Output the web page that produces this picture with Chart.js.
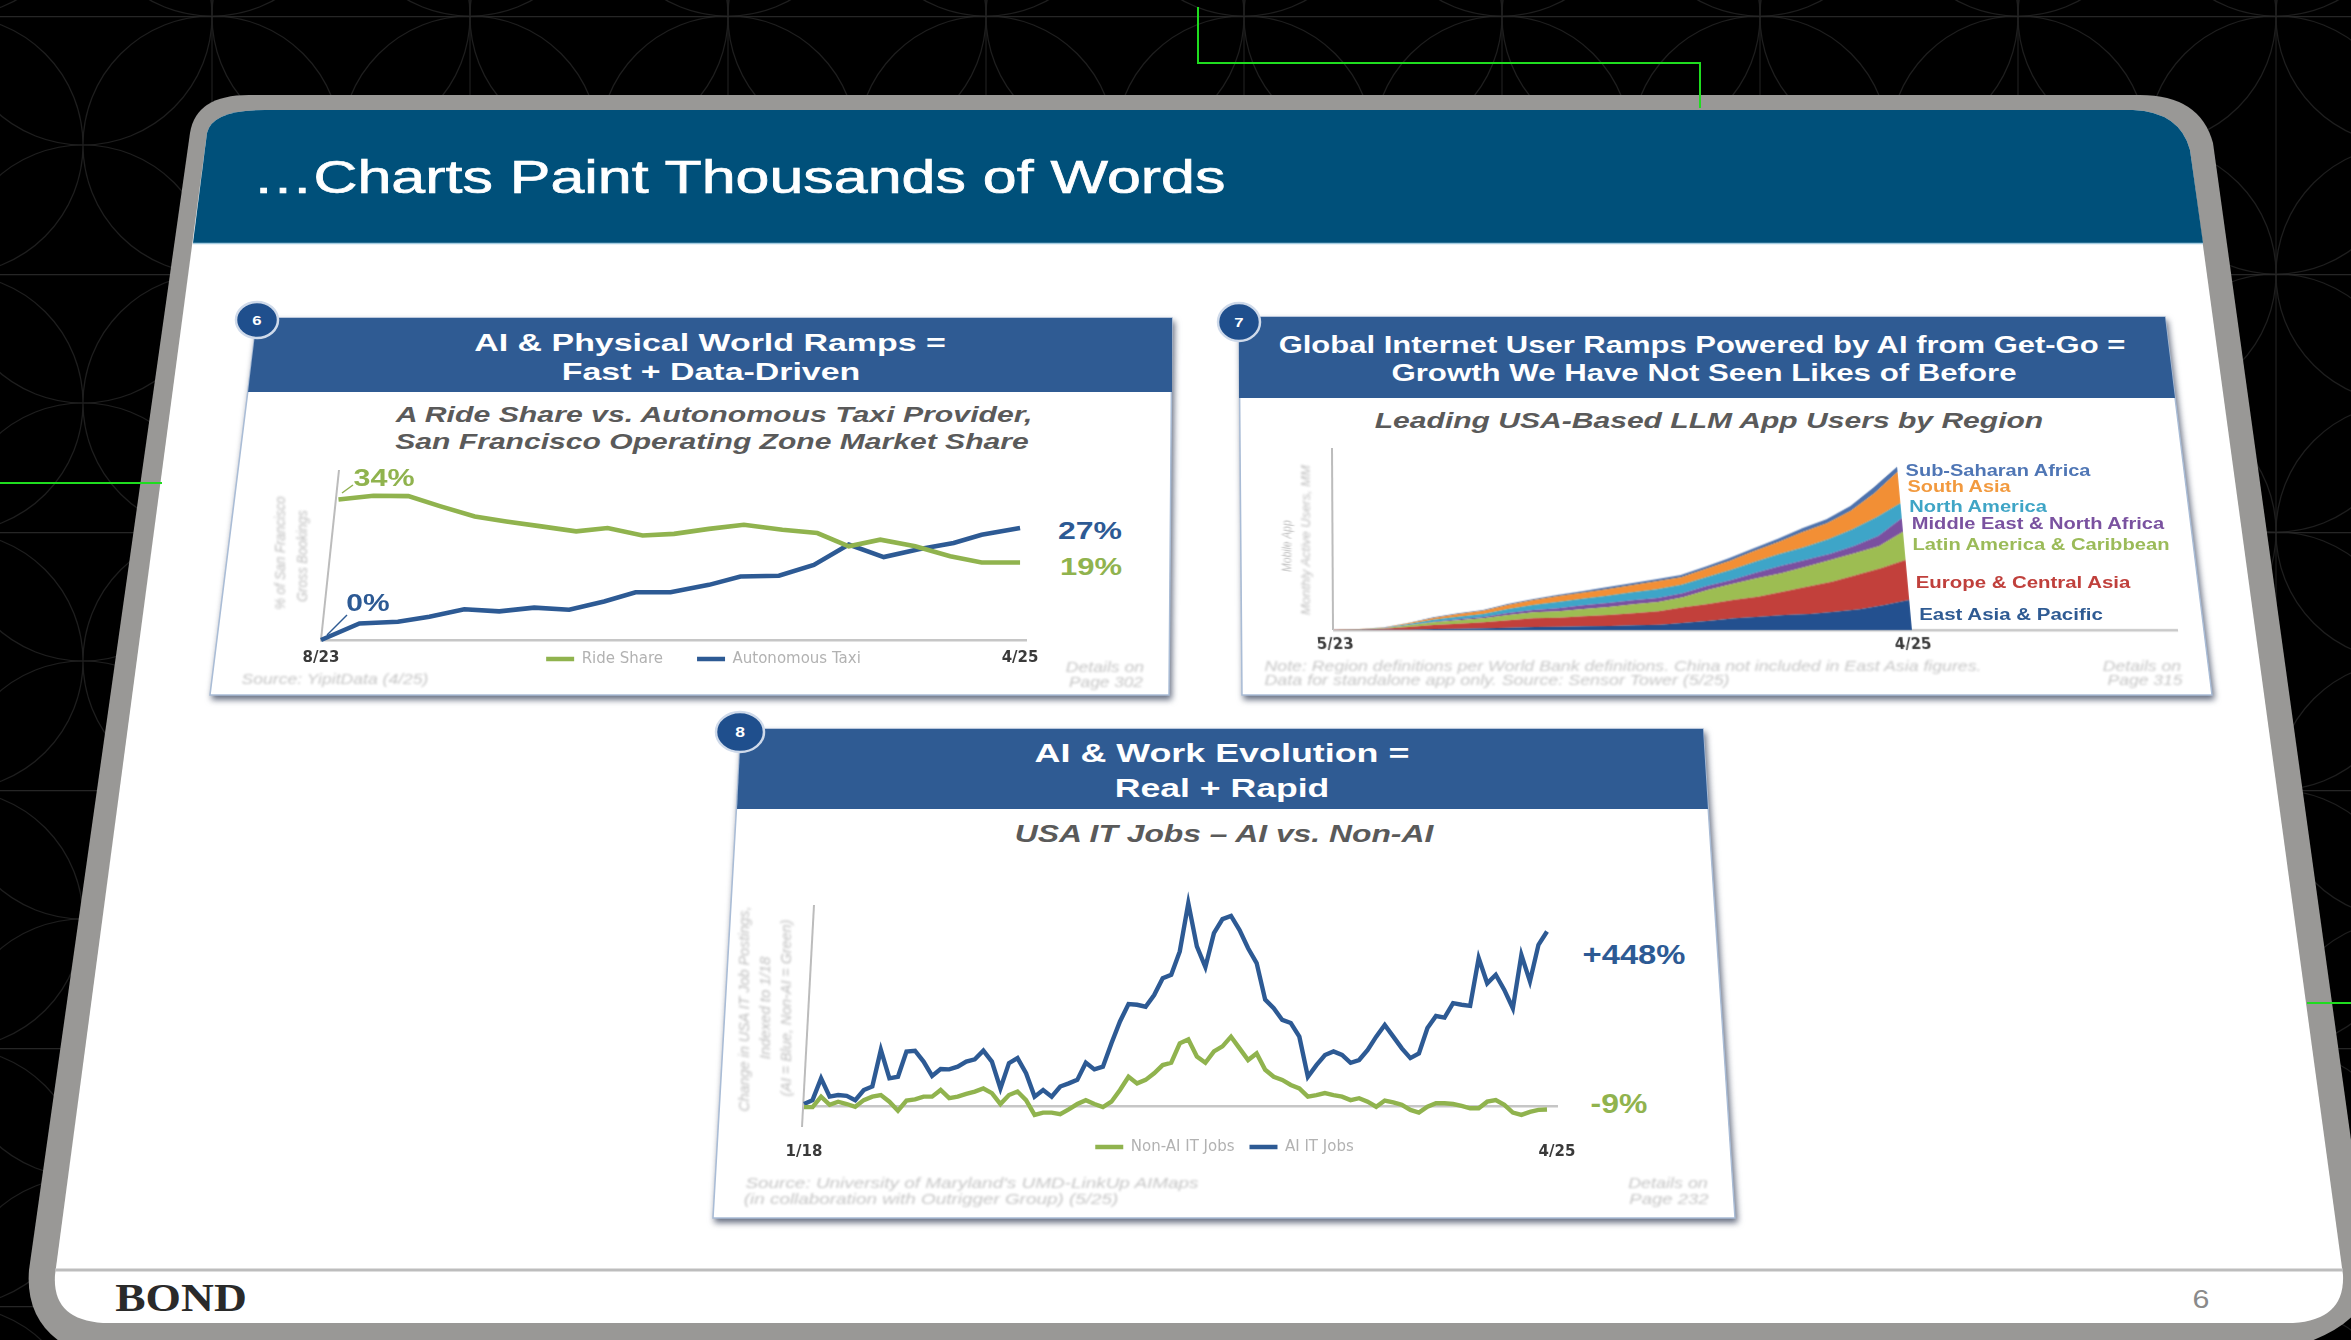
<!DOCTYPE html>
<html>
<head>
<meta charset="utf-8">
<title>Charts Paint Thousands of Words</title>
<script src="https://cdn.jsdelivr.net/npm/chart.js@4"></script>
<style>
  html, body { margin: 0; padding: 0; background: #000; overflow: hidden; }
  #slide { position: relative; width: 2351px; height: 1340px; overflow: hidden; filter: blur(0.7px); }
  #frame { position: absolute; left: 0; top: 0; }
  canvas { position: absolute; }
  .t { position: absolute; white-space: nowrap; font-family: "Liberation Sans", Arial, sans-serif; line-height: 1; }
  .card { filter: drop-shadow(2px 4px 3px rgba(50, 60, 85, .75)); }
</style>
</head>
<body>
<div id="slide">
  <svg id="frame" width="2351" height="1340" xmlns="http://www.w3.org/2000/svg">
    <defs>
      <pattern id="rings" x="83" y="16" width="258" height="258" patternUnits="userSpaceOnUse">
        <g fill="none" stroke="#1e1e1e" stroke-width="1.2">
          <circle cx="0" cy="0" r="129"/><circle cx="258" cy="0" r="129"/>
          <circle cx="0" cy="258" r="129"/><circle cx="258" cy="258" r="129"/>
          <circle cx="129" cy="129" r="129"/>
          <path d="M129 0V258"/>
        </g>
        <path d="M0 0H258" stroke="#262626" stroke-width="2.5"/>
      </pattern>
    </defs>
    <rect width="2351" height="1340" fill="#000"/>
    <rect width="2351" height="1340" fill="url(#rings)"/>

    <path d="M249 95L2140 95Q2200 95 2213 143L2369 1270Q2375 1320 2300 1345L65 1345Q25 1320 29 1270L190 133Q196 95 249 95Z" fill="#999896"/>
    <path d="M265 110L2133 110Q2180 112 2190 150L2343 1275Q2345 1320 2293 1323L103 1323Q52 1320 55 1275L207 133Q212 110 265 110Z" fill="#fff"/>
    <path d="M265 110L2133 110Q2180 112 2190 150L2203 243L193 243L207 133Q212 110 265 110Z" fill="#00507a"/>
    <path d="M193 243.5H2203" stroke="#a3cbe0" stroke-width="1.5"/>
    <path d="M55 1270H2343" stroke="#bdbdbd" stroke-width="3"/>

    <path d="M1198 7V63H1700V108M0 483H162M2307 1003H2351" fill="none" stroke="#1fdc1f" stroke-width="2"/>

    <polygon class="card" points="257,318 1172,318 1169,695 210,695" fill="#fff" stroke="#a9bcd6" stroke-width="1.5"/>
    <polygon points="257,318 1172,318 1172,392 248,392" fill="#2f5b93"/>
    <polygon class="card" points="1239,317 2165,317 2212,695 1242,695" fill="#fff" stroke="#a9bcd6" stroke-width="1.5"/>
    <polygon points="1239,317 2165,317 2175,398 1239,398" fill="#2f5b93"/>
    <polygon class="card" points="741,729 1703,729 1735,1218 713,1218" fill="#fff" stroke="#a9bcd6" stroke-width="1.5"/>
    <polygon points="741,729 1703,729 1708,809 737,809" fill="#2f5b93"/>

    <g fill="#1f4f8d" stroke="#cfdaea" stroke-width="2.5">
      <ellipse cx="257" cy="320" rx="21" ry="18"/>
      <ellipse cx="1239" cy="322" rx="21" ry="19"/>
      <ellipse cx="740" cy="732" rx="24" ry="20"/>
    </g>

    <g fill="none" stroke="#bcbcbc" stroke-width="2">
      <path d="M339 470L321 640"/>
      <path d="M1332 448L1333 630"/>
      <path d="M814 905L802 1127"/>
    </g>
    <path d="M342 493L353 485" stroke="#8fb04f" stroke-width="1.5"/>
    <path d="M327 635L347 615" stroke="#2f5b93" stroke-width="1.5"/>
  </svg>

  <canvas id="rideChart" width="745" height="249" style="left:301px;top:460px"></canvas>
  <canvas id="regionChart" width="883" height="222" style="left:1314px;top:438px;transform:skewX(5.2deg);transform-origin:20px 192px"></canvas>
  <canvas id="jobsChart" width="793" height="287" style="left:784px;top:890px"></canvas>
  <div id="labels"></div>
</div>

<script>
// =====================
// CHART 6: RIDE SHARE VS AUTONOMOUS TAXI (months since 8/23, % share)
// =====================
const rideTicks = ['8/23', '4/25'];
const rideShareX = [0.5, 1.5, 2.5, 3.4, 4.4, 5.3, 6.3, 7.3, 8.2, 9.2, 10.1, 11.1, 12.1, 13.2, 14.2, 15.1, 16, 17, 18, 18.9, 20];
const rideShare = [33.9, 34.8, 34.7, 32.3, 29.8, 28.6, 27.4, 26.2, 27, 25.2, 25.6, 26.8, 27.8, 26.6, 25.8, 22.6, 24.2, 22.6, 20.2, 18.7, 18.7];
const autoTaxiX = [0, 1.1, 2.2, 3.1, 4.1, 5.1, 6.1, 7.1, 8.1, 9, 10, 11.1, 12, 13.1, 14.1, 15.1, 16.1, 17.1, 18.1, 18.9, 20];
const autoTaxi = [0, 4, 4.4, 5.6, 7.4, 6.9, 7.8, 7.3, 9.3, 11.5, 11.5, 13.3, 15.3, 15.5, 18.1, 23, 20, 21.9, 23.4, 25.4, 27];

// =====================
// CHART 7: LLM APP USERS BY REGION, monthly 5/23 to 4/25 (no axis scale in the source, relative units)
// =====================
const regionTicks = ['5/23', '4/25'];
const eastAsiaPacific = [0.2, 0.5, 1, 1, 3, 4, 5, 7, 9, 10, 11, 12, 14, 16, 22, 28, 35, 40, 45, 48, 55, 62, 75, 90];
const europeCentralAsia = [0.3, 1, 3, 8, 12, 15, 18, 22, 26, 27, 30, 33, 36, 40, 46, 50, 55, 60, 70, 82, 90, 103, 110, 120];
const latinAmerica = [0.2, 0.5, 1.5, 5, 8, 10, 12, 16, 18, 19, 22, 24, 27, 28, 30, 42, 48, 55, 55, 60, 65, 65, 67, 85];
const middleEast = [0.1, 0.2, 0.5, 1, 2, 3, 4, 6, 7, 9, 11, 12, 12, 12, 12, 12, 12, 17, 22, 20, 18, 22, 30, 40];
const northAmerica = [0.1, 0.4, 1, 3, 6, 8, 9, 12, 15, 19, 20, 22, 24, 26, 26, 26, 30, 33, 36, 38, 44, 50, 56, 45];
const southAsia = [0.1, 0.3, 0.7, 3, 5, 8, 10, 12, 14, 17, 18, 19, 21, 24, 22, 25, 28, 32, 36, 46, 48, 56, 72, 95];
const subSaharan = [0, 0.1, 0.3, 1, 2, 2, 2, 3, 3, 4, 4, 6, 6, 6, 7, 7, 8, 8, 10, 11, 12, 14, 18, 15];

// =====================
// CHART 8: USA IT JOBS, monthly 1/18 to 4/25 (% change from 1/18)
// =====================
const jobsTicks = ['1/18', '4/25'];
const aiJobs = [
  5, 15, 71, 24, 28, 26, 15, 41, 50, 144, 71, 75,
  140, 142, 114, 77, 95, 94, 101, 114, 120, 142, 114, 45,
  110, 123, 84, 24, 41, 24, 50, 58, 67, 111, 94, 101,
  161, 217, 262, 260, 255, 285, 328, 337, 397, 521, 410, 357,
  444, 480, 488, 452, 405, 367, 273, 251, 221, 213, 178, 75,
  105, 131, 140, 131, 111, 118, 144, 178, 208, 178, 148, 123,
  135, 200, 231, 227, 264, 260, 257, 380, 315, 337, 298, 251,
  388, 320, 414, 448
];
const nonAiJobs = [
  -3, -3, 24, 3, 11, 5, -2, 15, 24, 28, 11, -12,
  14, 17, 24, 24, 41, 20, 24, 31, 37, 45, 33, 5,
  28, 37, 15, -23, -17, -17, -21, -9, 5, 15, 5, -3,
  11, 41, 75, 58, 67, 84, 105, 111, 161, 171, 127, 111,
  140, 153, 178, 148, 118, 135, 93, 75, 67, 54, 45, 24,
  28, 33, 28, 24, 15, 20, 11, -2, 14, 9, 3, -10,
  -17, -2, 7, 7, 5, 0, -6, -6, 11, 15, 3, -17,
  -23, -15, -10, -9
];

const BLUE = '#2d5a94';
const GREEN = '#90b34e';

// moves the legend onto the tick label row, Chart.js has no option for that
const legendNudge = {
  id: 'legendNudge',
  afterLayout(chart, args, opts) {
    if (!chart.legend || !opts.dx) return;
    chart.legend.left += opts.dx;
    chart.legend.right += opts.dx;
    chart.legend.top += opts.dy;
  }
};
Chart.register(legendNudge);

function toPoints(xs, ys) {
  return ys.map((y, i) => ({ x: xs ? xs[i] : i, y }));
}

// the label gap goes through tickLength, ticks.padding would shrink the chart area
function xAxis(tickValues, tickLabels, max, gap) {
  return {
    type: 'linear',
    min: 0,
    max,
    position: { y: 0 },
    grid: { display: false, drawTicks: true, tickLength: gap },
    border: { display: true, color: '#c6c6c6', width: 2.5 },
    afterBuildTicks: scale => { scale.ticks = tickValues.map(value => ({ value })); },
    ticks: {
      autoSkip: false,
      maxRotation: 0,
      padding: 0,
      color: '#3a3a3a',
      font: { family: 'DejaVu Sans', size: 15, weight: 'bold' },
      callback: (v, i) => tickLabels[i]
    }
  };
}

function legendOptions(padding) {
  return {
    position: 'bottom',
    labels: {
      usePointStyle: true,
      pointStyle: 'line',
      pointStyleWidth: 28,
      padding,
      color: '#b2b2b2',
      font: { family: 'DejaVu Sans', size: 15 }
    }
  };
}

new Chart(document.getElementById('rideChart'), {
  type: 'line',
  data: {
    datasets: [
      { label: 'Ride Share', data: toPoints(rideShareX, rideShare), borderColor: GREEN, backgroundColor: GREEN, borderWidth: 4.6, pointRadius: 0, clip: false },
      { label: 'Autonomous Taxi', data: toPoints(autoTaxiX, autoTaxi), borderColor: BLUE, backgroundColor: BLUE, borderWidth: 4.6, pointRadius: 0, clip: false }
    ]
  },
  options: {
    responsive: false,
    animation: false,
    layout: { padding: { left: 20, right: 20, top: 10, bottom: 10 } },
    plugins: { legend: legendOptions(34), tooltip: { enabled: false }, legendNudge: { dx: 30, dy: -22.5 } },
    scales: {
      x: xAxis([0, 20], rideTicks, 20.17, 9),
      y: { display: false, min: 0, max: 41 }
    }
  }
});

const regionSeries = [
  ['East Asia & Pacific', eastAsiaPacific, '#23508f'],
  ['Europe & Central Asia', europeCentralAsia, '#c2403b'],
  ['Latin America & Caribbean', latinAmerica, '#9dbd52'],
  ['Middle East & North Africa', middleEast, '#7a50a0'],
  ['North America', northAmerica, '#3ea5c8'],
  ['South Asia', southAsia, '#f28f35'],
  ['Sub-Saharan Africa', subSaharan, '#4d72ad']
];

new Chart(document.getElementById('regionChart'), {
  type: 'line',
  data: {
    datasets: regionSeries.map(([label, values, color], i) => ({
      label,
      data: toPoints(null, values),
      borderColor: color,
      backgroundColor: color,
      borderWidth: 0,
      pointRadius: 0,
      fill: i === 0 ? 'origin' : '-1'
    }))
  },
  options: {
    responsive: false,
    animation: false,
    layout: { padding: { left: 20, right: 20, top: 10, bottom: 30 } },
    plugins: { legend: { display: false }, tooltip: { enabled: false } },
    scales: {
      x: xAxis([0, 23], regionTicks, 33.55, 6),
      y: { display: false, stacked: true, min: 0, max: 546 }
    }
  }
});

new Chart(document.getElementById('jobsChart'), {
  type: 'line',
  data: {
    datasets: [
      { label: 'Non-AI IT Jobs', data: toPoints(null, nonAiJobs), borderColor: GREEN, backgroundColor: GREEN, borderWidth: 4.4, pointRadius: 0, clip: false, order: 0 },
      { label: 'AI IT Jobs', data: toPoints(null, aiJobs), borderColor: BLUE, backgroundColor: BLUE, borderWidth: 4.4, pointRadius: 0, clip: false, order: 1 }
    ]
  },
  options: {
    responsive: false,
    animation: false,
    layout: { padding: { left: 20, right: 20, top: 10, bottom: 10 } },
    plugins: { legend: legendOptions(15), tooltip: { enabled: false }, legendNudge: { dx: 44, dy: -2.5 } },
    scales: {
      x: xAxis([0, 88.17], jobsTicks, 88.17, 37),
      y: { display: false, min: -54, max: 529 }
    }
  }
});

// =====================
// TEXT (the source slide is stretched sideways, so each line is fitted to its measured width)
// =====================
const GREY = '#bdbdbd';
const FAINT = '#c6c6c6';
const DARK = '#5a5a5a';
const texts = [
  // text, centre x, centre y, width, font size, colour, style, rotated
  ['…Charts Paint Thousands of Words', 739, 176, 973, 47, '#fff', 'heavy'],
  ['BOND', 181, 1298, 132, 40, '#2a2a2a', 'serif'],
  ['6', 2201, 1299, 17, 25, '#8a8a8a', ''],

  ['6', 257, 320, 9, 13, '#fff', 'b'],
  ['AI & Physical World Ramps =', 710, 343, 472, 24, '#fff', 'b'],
  ['Fast + Data-Driven', 711, 372, 298, 24, '#fff', 'b'],
  ['A Ride Share vs. Autonomous Taxi Provider,', 714, 415, 636, 22, DARK, 'bi'],
  ['San Francisco Operating Zone Market Share', 712, 442, 633, 22, DARK, 'bi'],
  ['34%', 384, 478, 61, 23, GREEN, 'b'],
  ['0%', 368, 603, 43, 23, BLUE, 'b'],
  ['27%', 1090, 531, 64, 23, BLUE, 'b'],
  ['19%', 1091, 567, 62, 23, GREEN, 'b'],
  ['% of San Francisco', 280, 553, 113, 14, GREY, 'f', true],
  ['Gross Bookings', 302, 556, 92, 14, GREY, 'f', true],
  ['Source: YipitData (4/25)', 335, 679, 187, 14, FAINT, 'f'],
  ['Details on', 1105, 667, 78, 14, FAINT, 'f'],
  ['Page 302', 1106, 682, 74, 14, FAINT, 'f'],

  ['7', 1239, 322, 9, 13, '#fff', 'b'],
  ['Global Internet User Ramps Powered by AI from Get-Go =', 1702, 345, 847, 23, '#fff', 'b'],
  ['Growth We Have Not Seen Likes of Before', 1704, 373, 625, 23, '#fff', 'b'],
  ['Leading USA-Based LLM App Users by Region', 1709, 421, 668, 22, DARK, 'bi'],
  ['Mobile App', 1287, 546, 52, 12, GREY, 'f', true],
  ['Monthly Active Users, MM', 1306, 540, 150, 12, GREY, 'f', true],
  ['Sub-Saharan Africa', 1998, 471, 185, 16, '#4f76b5', 'b'],
  ['South Asia', 1959, 487, 103, 16, '#f29a3f', 'b'],
  ['North America', 1978, 507, 138, 16, '#3fa5c6', 'b'],
  ['Middle East & North Africa', 2038, 524, 252, 16, '#7a52a0', 'b'],
  ['Latin America & Caribbean', 2041, 545, 257, 16, '#9bbb59', 'b'],
  ['Europe & Central Asia', 2023, 583, 214, 16, '#c0403c', 'b'],
  ['East Asia & Pacific', 2011, 615, 183, 16, '#2f5b93', 'b'],
  ['Note: Region definitions per World Bank definitions. China not included in East Asia figures.', 1623, 666, 717, 14, FAINT, 'f'],
  ['Data for standalone app only. Source: Sensor Tower (5/25)', 1497, 680, 465, 14, FAINT, 'f'],
  ['Details on', 2142, 666, 78, 14, FAINT, 'f'],
  ['Page 315', 2145, 680, 75, 14, FAINT, 'f'],

  ['8', 740, 732, 10, 14, '#fff', 'b'],
  ['AI & Work Evolution =', 1222, 753, 375, 26, '#fff', 'b'],
  ['Real + Rapid', 1222, 788, 215, 26, '#fff', 'b'],
  ['USA IT Jobs – AI vs. Non-AI', 1224, 834, 418, 23, DARK, 'bi'],
  ['Change in USA IT Job Postings,', 744, 1009, 205, 14, GREY, 'f', true],
  ['Indexed to 1/18', 765, 1008, 103, 14, GREY, 'f', true],
  ['(AI = Blue, Non-AI = Green)', 786, 1008, 177, 14, GREY, 'f', true],
  ['+448%', 1634, 955, 103, 28, BLUE, 'b'],
  ['-9%', 1619, 1104, 57, 28, GREEN, 'b'],
  ["Source: University of Maryland's UMD-LinkUp AIMaps", 972, 1182, 453, 15, FAINT, 'f'],
  ['(in collaboration with Outrigger Group) (5/25)', 931, 1198, 375, 15, FAINT, 'f'],
  ['Details on', 1668, 1182, 80, 15, FAINT, 'f'],
  ['Page 232', 1669, 1198, 79, 15, FAINT, 'f']
];

const labelsEl = document.getElementById('labels');
texts.forEach(([text, cx, cy, width, size, color, style, rotated]) => {
  const el = document.createElement('div');
  el.className = 't';
  el.textContent = text;
  el.style.fontSize = size + 'px';
  el.style.color = color;
  if (style === 'b' || style === 'bi') el.style.fontWeight = 'bold';
  if (style === 'bi' || style === 'f') el.style.fontStyle = 'italic';
  if (style === 'f') el.style.filter = 'blur(0.9px)';
  if (style === 'heavy') el.style.webkitTextStroke = '0.7px #fff';
  if (style === 'serif') {
    el.style.fontFamily = '"Liberation Serif", serif';
    el.style.fontWeight = 'bold';
  }
  el.style.left = cx + 'px';
  el.style.top = cy + 'px';
  labelsEl.appendChild(el);
  const k = width / el.offsetWidth;
  el.style.transform = 'translate(-50%,-50%)' + (rotated ? ' rotate(-90deg)' : '') + ' scaleX(' + k.toFixed(3) + ')';
});
</script>
</body>
</html>
